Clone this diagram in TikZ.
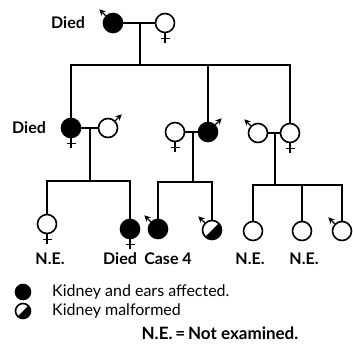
\documentclass[tikz,border=0pt]{standalone}
\usepackage{fontspec}
\setmainfont{Lato}
\usetikzlibrary{arrows.meta}
\tikzset{
  person/.style={circle,draw,line width=1.6pt,minimum size=19pt,inner sep=0pt},
  affected/.style={person,fill=black},
  lbl/.style={font=\bfseries\fontsize{16}{18}\selectfont,inner sep=0pt},
  key/.style={font=\fontsize{16}{18}\selectfont,inner sep=0pt,anchor=west},
  line/.style={line width=1.6pt},
}
\newcommand{\msign}[2]{\draw[line width=1.4pt,-{Stealth[length=6pt,width=6pt]}] (#1.#2) -- ++(#2:9);}
\newcommand{\fsign}[1]{\draw[line width=1.4pt] (#1.south) -- ++(0,-10) (#1.south) ++(-4.5,-5) -- ++(9,0);}
\newcommand{\halffill}[2]{\fill (#1.center) ++(45:#2) arc[start angle=45,end angle=-135,radius=#2] -- cycle;}
\begin{document}
\begin{tikzpicture}[x=1pt,y=1pt]
\useasboundingbox (0,0) rectangle (353,-354);
% generation I
\node[affected] (m1) at (113,-23) {};
\node[person] (f1) at (165,-23) {};
\node[lbl] (d1) at (68,-23) {Died};
\coordinate (s1) at (140,-65);
\draw[line] (m1) -- (f1);
\draw[line] (s1 |- m1) -- (s1);
\msign{m1}{135}
\fsign{f1}
% generation II
\node[affected] (f2) at (71,-128) {};
\node[person] (m2) at (108,-128) {};
\node[person] (f3) at (175,-132) {};
\node[affected] (m3) at (208,-132) {};
\node[person] (m4) at (258,-133) {};
\node[person] (f4) at (290,-133) {};
\node[lbl] (d2) at (29,-128) {Died};
\draw[line] (f2) |- (s1) -| (f4);
\draw[line] (m3) -- (m3 |- s1);
\draw[line] (f2) -- (m2);
\draw[line] (f3) -- (m3);
\draw[line] (m4) -- (f4);
\fsign{f2}
\msign{m2}{45}
\fsign{f3}
\msign{m3}{45}
\msign{m4}{135}
\fsign{f4}
% generation III
\coordinate (s2) at (90,-181);
\coordinate (s3) at (193,-182);
\coordinate (s4) at (275,-185);
\node[person] (f5) at (47,-224) {};
\node[affected] (f6) at (130,-229) {};
\node[affected] (m5) at (158,-229) {};
\node[person] (m6) at (212,-230) {};
\node[person] (u1) at (253,-231) {};
\node[person] (u2) at (302,-231) {};
\node[person] (m7) at (342,-231) {};
\halffill{m6}{9.5}
\draw[line] (s2 |- f2) -- (s2);
\draw[line] (s3 |- f3) -- (s3);
\draw[line] (s4 |- m4) -- (s4);
\draw[line] (f5) |- (s2) -| (f6);
\draw[line] (m5) |- (s3) -| (m6);
\draw[line] (u1) |- (s4) -| (m7);
\draw[line] (u2) -- (u2 |- s4);
\fsign{f5}
\fsign{f6}
\msign{m5}{135}
\msign{m6}{135}
\msign{m7}{135}
\node[lbl] (n1) at (50,-259) {N.E.};
\node[lbl] (d3) at (120,-259) {Died};
\node[lbl] (c4) at (168,-259) {Case 4};
\node[lbl] (n2) at (250,-259) {N.E.};
\node[lbl] (n3) at (304,-259) {N.E.};
% key
\node[affected,minimum size=15pt] (k1) at (23,-292) {};
\node[person,minimum size=15pt] (k2) at (23,-311) {};
\halffill{k2}{7.5}
\node[key] (k1t) at (52,-292) {Kidney and ears affected.};
\node[key] (k2t) at (52,-311) {Kidney malformed};
\node[lbl,font=\bfseries\fontsize{17}{19}\selectfont] (ne) at (220,-333) {N.E.\,=\,Not examined.};
\end{tikzpicture}
\end{document}
